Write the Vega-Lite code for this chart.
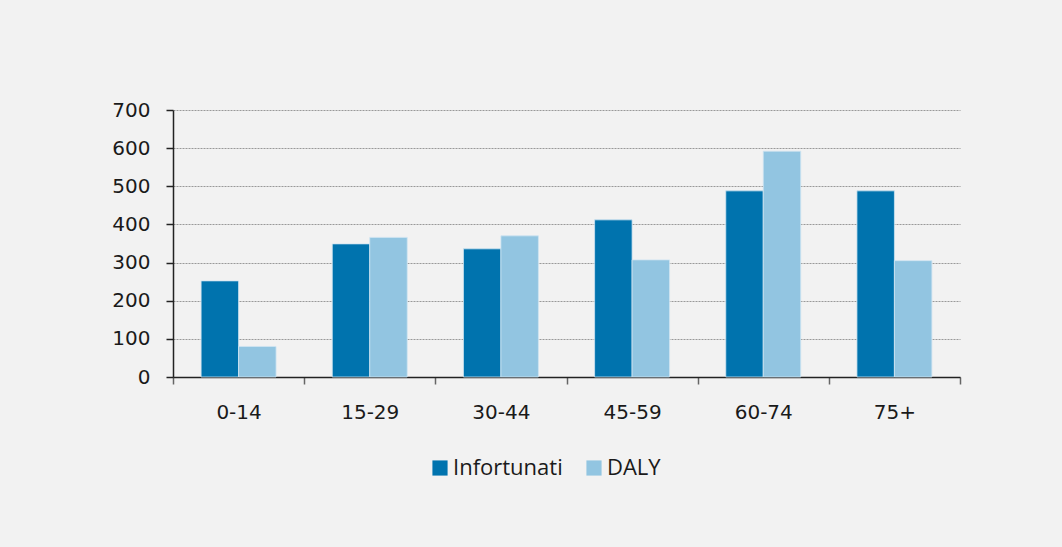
{
  "$schema": "https://vega.github.io/schema/vega-lite/v6.json",
  "width": 787,
  "height": 267,
  "padding": {"left": 111, "top": 100, "right": 102, "bottom": 71},
  "background": "#f2f2f2",
  "data": {
    "values": [
      {"eta": "0-14", "serie": "Infortunati", "valore": 252},
      {"eta": "0-14", "serie": "DALY", "valore": 80},
      {"eta": "15-29", "serie": "Infortunati", "valore": 349},
      {"eta": "15-29", "serie": "DALY", "valore": 366},
      {"eta": "30-44", "serie": "Infortunati", "valore": 336},
      {"eta": "30-44", "serie": "DALY", "valore": 370},
      {"eta": "45-59", "serie": "Infortunati", "valore": 412},
      {"eta": "45-59", "serie": "DALY", "valore": 307},
      {"eta": "60-74", "serie": "Infortunati", "valore": 488},
      {"eta": "60-74", "serie": "DALY", "valore": 592},
      {"eta": "75+", "serie": "Infortunati", "valore": 488},
      {"eta": "75+", "serie": "DALY", "valore": 305}
    ]
  },
  "mark": {"type": "bar", "stroke": "#cfe5f1", "strokeWidth": 0.8},
  "encoding": {
    "x": {
      "field": "eta",
      "type": "nominal",
      "sort": null,
      "scale": {"paddingInner": 0, "paddingOuter": 0},
      "axis": {
        "title": null,
        "labelAngle": 0,
        "tickBand": "extent",
        "tickSize": 7,
        "tickColor": "#666666",
        "domainColor": "#222222",
        "labelFont": "DejaVu Sans",
        "labelFontSize": 20,
        "labelColor": "#1a1a1a",
        "labelPadding": 18,
        "grid": false
      }
    },
    "xOffset": {
      "field": "serie",
      "type": "nominal",
      "sort": ["Infortunati", "DALY"],
      "scale": {"paddingInner": 0, "paddingOuter": 0.75}
    },
    "y": {
      "field": "valore",
      "type": "quantitative",
      "scale": {"domain": [0, 700]},
      "axis": {
        "title": null,
        "values": [0, 100, 200, 300, 400, 500, 600, 700],
        "tickSize": 7,
        "tickColor": "#222222",
        "domainColor": "#222222",
        "labelFont": "DejaVu Sans",
        "labelFontSize": 20,
        "labelColor": "#1a1a1a",
        "labelPadding": 16,
        "grid": true,
        "gridColor": "#999999",
        "gridDash": [2, 1],
        "gridWidth": 1
      }
    },
    "color": {
      "field": "serie",
      "type": "nominal",
      "sort": ["Infortunati", "DALY"],
      "scale": {"domain": ["Infortunati", "DALY"], "range": ["#0073ae", "#92c5e1"]},
      "legend": {
        "title": null,
        "orient": "none",
        "direction": "horizontal",
        "legendX": 256,
        "legendY": 347,
        "symbolType": "square",
        "symbolSize": 230,
        "symbolStrokeWidth": 0,
        "labelFont": "Open Sans",
        "labelFontSize": 22,
        "labelColor": "#1a1a1a",
        "labelOffset": 2,
        "columnPadding": 20
      }
    }
  },
  "config": {
    "view": {"stroke": null},
    "axis": {"domainWidth": 1.5, "tickWidth": 1.5}
  }
}
